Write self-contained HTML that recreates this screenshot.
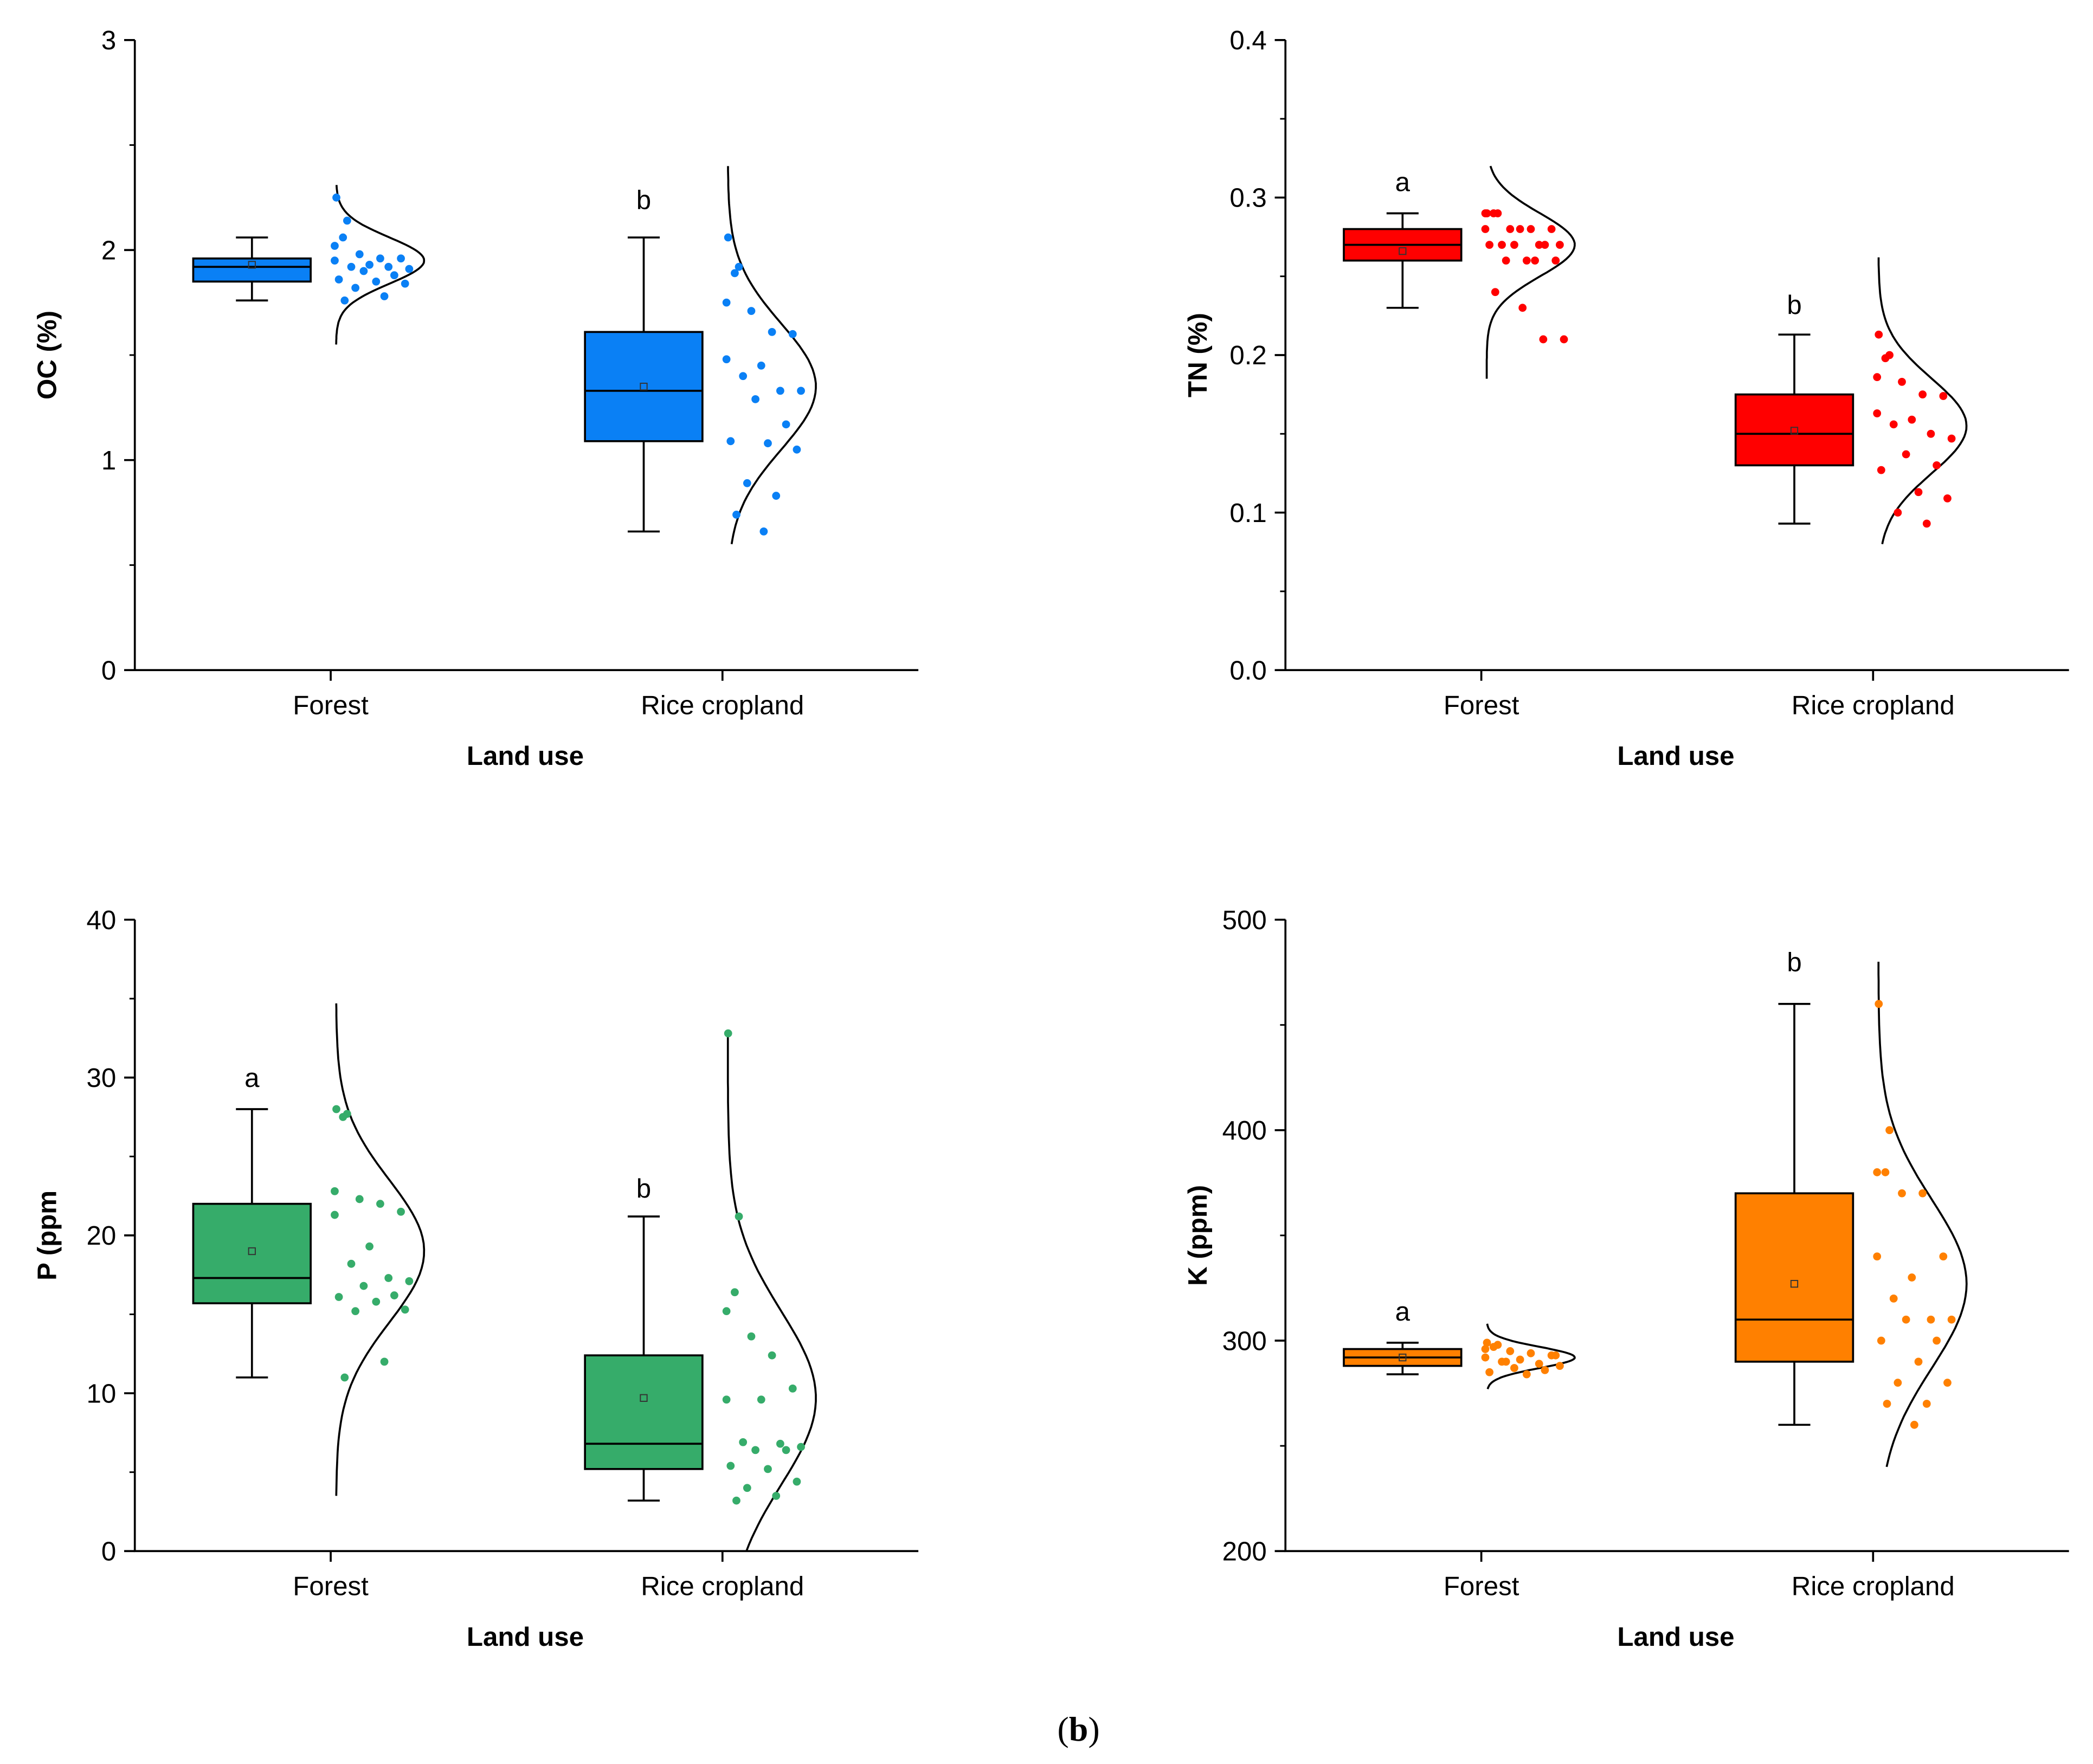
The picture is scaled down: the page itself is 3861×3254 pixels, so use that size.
<!DOCTYPE html>
<html><head><meta charset="utf-8">
<style>
html,body{margin:0;padding:0;background:#fff;}
svg{display:block;}
text{font-family:"Liberation Sans",Arial,sans-serif;}
</style></head>
<body>
<svg id="chart" width="3861" height="3254" viewBox="0 0 1568 1321.5" xmlns="http://www.w3.org/2000/svg">
<text x="808" y="1304" text-anchor="middle" font-size="26" style="font-family:'Liberation Serif',serif">(<tspan font-weight="bold">b</tspan>)</text>
</svg>
<script>
const NS="http://www.w3.org/2000/svg";
const svg=document.getElementById('chart');
// ---- data ----
const categories=["Forest","Rice cropland"];
const panelTitles=["OC (%)","TN (%)","P (ppm","K (ppm)"];
const yTicks=[[0,1,2,3],[0.0,0.1,0.2,0.3,0.4],[0,10,20,30,40],[200,300,400,500]];
const yTickLabels=[["0","1","2","3"],["0.0","0.1","0.2","0.3","0.4"],["0","10","20","30","40"],["200","300","400","500"]];
const yMinor=[0.5,0.05,5,50];
const letters=[["",  "b"],["a","b"],["a","b"],["a","b"]];
const letterY=[[0,2.24],[0.31,0.232],[30,23],[314,480]];
// box stats: [whiskerLow, q1, median, q3, whiskerHigh, mean]
const boxOC=[[1.76,1.85,1.92,1.96,2.06,1.93],[0.66,1.09,1.33,1.61,2.06,1.35]];
const boxTN=[[0.23,0.26,0.27,0.28,0.29,0.266],[0.093,0.13,0.15,0.175,0.213,0.152]];
const boxP=[[11,15.7,17.3,22,28,19],[3.2,5.2,6.8,12.4,21.2,9.7]];
const boxK=[[284,288,292,296,299,292],[260,290,310,370,460,327]];
// curve: [low, high, mean, sd]
const curveOC=[[1.55,2.31,1.95,0.11],[0.6,2.4,1.35,0.3]];
const curveTN=[[0.185,0.32,0.27,0.02],[0.08,0.262,0.155,0.03]];
const curveP=[[3.5,34.7,19,4.5],[0,33,9.7,5.5]];
const curveK=[[277,308,292,5],[240,480,327,40]];
// raw points
const ptsOC=[[2.25,2.14,2.06,2.02,1.98,1.96,1.96,1.95,1.93,1.92,1.92,1.91,1.90,1.88,1.86,1.85,1.84,1.82,1.78,1.76],
[2.06,1.92,1.89,1.75,1.71,1.61,1.6,1.48,1.45,1.4,1.33,1.33,1.29,1.17,1.09,1.08,1.05,0.89,0.83,0.74,0.66]];
const ptsTN=[[0.29,0.29,0.29,0.29,0.28,0.28,0.28,0.28,0.28,0.27,0.27,0.27,0.27,0.27,0.27,0.26,0.26,0.26,0.26,0.24,0.23,0.21,0.21],
[0.213,0.2,0.198,0.186,0.183,0.175,0.174,0.163,0.159,0.156,0.15,0.147,0.137,0.13,0.127,0.113,0.109,0.1,0.093]];
const ptsP=[[28,27.7,27.5,22.8,22.3,22,21.5,21.3,19.3,18.2,17.3,17.1,16.8,16.2,16.1,15.8,15.3,15.2,12,11],
[32.8,21.2,16.4,15.2,13.6,12.4,10.3,9.6,9.6,6.9,6.8,6.6,6.4,6.4,5.4,5.2,4.4,4,3.5,3.2]];
const ptsK=[[299,298,297,296,295,294,293,292,291,290,289,288,287,286,285,284,293,290],
[460,400,380,380,370,370,340,340,330,320,310,310,310,300,300,290,280,280,270,270,260]];
const jitter=[0.02,0.15,0.1,0.0,0.3,0.55,0.8,0.0,0.42,0.2,0.65,0.9,0.35,0.72,0.05,0.5,0.85,0.25,0.6,0.12,0.45,0.7,0.95];
const boxes=[boxOC,boxTN,boxP,boxK], curves=[curveOC,curveTN,curveP,curveK], pts=[ptsOC,ptsTN,ptsP,ptsK];
const colors=["#0a80f5","#ff0000","#36ac6a","#ff8000"];
const ids=["oc","tn","p","k"];
// ---- layout ----
const layout=[{x0:101,x1:688,yt:30,yb:502},{x0:963,x1:1550,yt:30,yb:502},{x0:101,x1:688,yt:689,yb:1162},{x0:963,x1:1550,yt:689,yb:1162}];
function el(tag,attrs,parent){const e=document.createElementNS(NS,tag);for(const k in attrs)e.setAttribute(k,attrs[k]);(parent||svg).appendChild(e);return e;}
layout.forEach((L,pi)=>{
  const g=el('g',{});
  
  
  const t=yTicks[pi], ymin=t[0], ymax=t[t.length-1];
  const Y=v=>L.yb-(v-ymin)/(ymax-ymin)*(L.yb-L.yt);
  const span=L.x1-L.x0;
  const X=i=>L.x0+span*(0.25+0.5*i);
  const ax=el('path',{d:`M${L.x0},${L.yt}V${L.yb}H${L.x1}`,stroke:'#000','stroke-width':1.5,fill:'none'},g);
  
  for(let v=ymin;v<=ymax+1e-9;v+=yMinor[pi]){el('line',{x1:L.x0-4,x2:L.x0,y1:Y(v),y2:Y(v),stroke:'#000','stroke-width':1.2},g);}
  t.forEach((v,j)=>{
    el('line',{x1:L.x0-8,x2:L.x0,y1:Y(v),y2:Y(v),stroke:'#000','stroke-width':1.5},g);
    const tx=el('text',{x:L.x0-14,y:Y(v)+7,'text-anchor':'end','font-size':20},g);tx.textContent=yTickLabels[pi][j];
    
  });
  categories.forEach((c,i)=>{
    el('line',{x1:X(i),x2:X(i),y1:L.yb,y2:L.yb+8,stroke:'#000','stroke-width':1.5},g);
    const tx=el('text',{x:X(i),y:L.yb+33,'text-anchor':'middle','font-size':20},g);tx.textContent=c;
    
  });
  const xt=el('text',{x:(L.x0+L.x1)/2-1,y:L.yb+71,'text-anchor':'middle','font-size':20,'font-weight':'bold'},g);xt.textContent='Land use';
  
  const yc=(L.yt+L.yb)/2, yx=L.x0-59;
  const yt=el('text',{x:yx,y:yc,'text-anchor':'middle','font-size':20,'font-weight':'bold',transform:`rotate(-90 ${yx} ${yc})`},g);yt.textContent=panelTitles[pi];
  
  categories.forEach((c,i)=>{
    const b=boxes[pi][i], bx=X(i)-59, hw=44;
    const wk=el('path',{d:`M${bx},${Y(b[0])}V${Y(b[1])}M${bx},${Y(b[3])}V${Y(b[4])}M${bx-12},${Y(b[0])}H${bx+12}M${bx-12},${Y(b[4])}H${bx+12}`,stroke:'#000','stroke-width':1.5,fill:'none'},g);
    
    const r=el('rect',{x:bx-hw,y:Y(b[3]),width:hw*2,height:Y(b[1])-Y(b[3]),fill:colors[pi],stroke:'#000','stroke-width':1.5},g);
    
    el('line',{x1:bx-hw,x2:bx+hw,y1:Y(b[2]),y2:Y(b[2]),stroke:'#000','stroke-width':1.5},g);
    const m=el('rect',{x:bx-2.5,y:Y(b[5])-2.5,width:5,height:5,fill:'none',stroke:'#333','stroke-width':0.8},g);
    
    if(letters[pi][i]){const lt=el('text',{x:bx,y:Y(letterY[pi][i])+7,'text-anchor':'middle','font-size':20},g);lt.textContent=letters[pi][i];
      }
    const cv=curves[pi][i], cx=X(i)+4; let d='';
    for(let k=0;k<=80;k++){const v=cv[0]+(cv[1]-cv[0])*k/80;const w=66*Math.exp(-0.5*((v-cv[2])/cv[3])**2);d+=(k?'L':'M')+(cx+w).toFixed(1)+','+Y(v).toFixed(1);}
    const cp=el('path',{d:d,fill:'none',stroke:'#000','stroke-width':1.5},g);
    
    pts[pi][i].forEach((v,k)=>{
      const dp=el('circle',{cx:X(i)+3+jitter[k%jitter.length]*62,cy:Y(v),r:3,fill:colors[pi]},g);
      
    });
  });
});
</script>
</body></html>
